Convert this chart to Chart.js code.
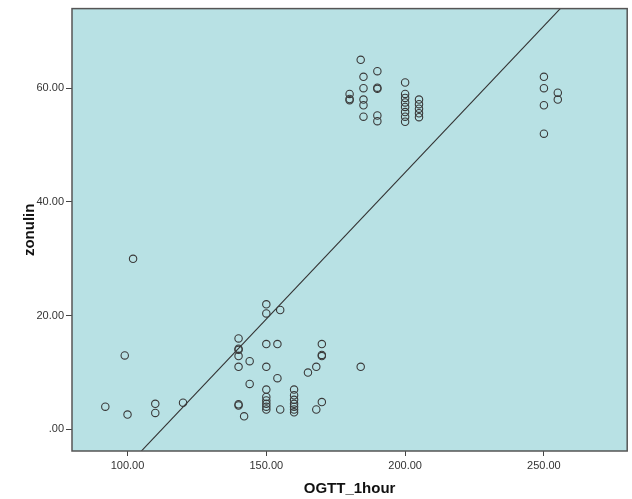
<!DOCTYPE html>
<html>
<head>
<meta charset="utf-8">
<script src="https://cdn.jsdelivr.net/npm/chart.js@4/dist/chart.umd.min.js"></script>
<style>
  html, body { margin: 0; padding: 0; background: #fff; }
  #wrap { width: 632px; height: 499px; }
</style>
</head>
<body>
<div id="wrap"><canvas id="scatterChart"></canvas></div>
<script>
// OGTT 1 hour vs zonulin
const ogtt = [
  92, 100, 99, 102, 110, 110, 120,
  140, 140, 140, 140, 140, 140, 140, 142, 144, 144,
  150, 150, 150, 150, 150, 150, 150, 150, 150, 150,
  154, 154, 155, 155,
  160, 160, 160, 160, 160, 160, 160,
  165, 168, 168, 170, 170, 170, 170, 184,
  180, 180, 180,
  184, 185, 185, 185, 185, 185,
  190, 190, 190, 190, 190,
  200, 200, 200, 200, 200, 200, 200, 200,
  205, 205, 205, 205, 205,
  250, 250, 250, 250, 255, 255
];
const zonulin = [
  4, 2.6, 13, 30, 4.5, 2.9, 4.7,
  16, 14, 14.2, 12.9, 11, 4.4, 4.2, 2.3, 12, 8,
  22, 20.4, 15, 11, 7, 5.7, 5.1, 4.5, 4, 3.5,
  15, 9, 21, 3.5,
  7, 6, 5.2, 4.5, 4, 3.5, 3,
  10, 11, 3.5, 15, 13.1, 12.9, 4.8, 11,
  59, 58.1, 57.9,
  65, 62, 60, 58, 57, 55,
  63, 60.1, 59.9, 55.2, 54.2,
  61, 59, 58.3, 57.5, 56.7, 55.8, 55, 54.1,
  58, 57.2, 56.4, 55.6, 54.9,
  62, 60, 57, 52, 59.2, 58
];
const xTicks = [100, 150, 200, 250];
const yTicks = [0, 20, 40, 60];

// linear fit line
const fitSlope = 0.5156;
const fitIntercept = -57.94;
const xMin = 80, xMax = 280;
const yMin = -3.8, yMax = 74;

const points = ogtt.map((x, i) => ({ x: x, y: zonulin[i] }));
const fitLine = [xMin, xMax].map((x) => ({ x: x, y: fitIntercept + fitSlope * x }));

const fmt = (v) => {
  const s = v.toFixed(2);
  return s.startsWith("0.") ? s.slice(1) : s;
};

// fill + frame the plot area
const plotFrame = {
  id: "plotFrame",
  beforeDatasetsDraw(chart) {
    const { ctx, chartArea: a } = chart;
    ctx.save();
    ctx.fillStyle = "#b8e1e4";
    ctx.fillRect(a.left, a.top, a.right - a.left, a.bottom - a.top);
    ctx.restore();
  },
  afterDatasetsDraw(chart) {
    const { ctx, chartArea: a } = chart;
    ctx.save();
    ctx.strokeStyle = "#555";
    ctx.lineWidth = 1.5;
    ctx.strokeRect(a.left, a.top, a.right - a.left, a.bottom - a.top);
    ctx.restore();
  },
};

const ctx = document.getElementById("scatterChart").getContext("2d");
new Chart(ctx, {
  type: "scatter",
  data: {
    datasets: [
      {
        data: points,
        pointStyle: "circle",
        pointRadius: 3.7,
        pointHoverRadius: 3.7,
        pointBorderWidth: 1.1,
        pointBorderColor: "#3a3a3a",
        pointBackgroundColor: "rgba(0,0,0,0)",
      },
      {
        type: "line",
        data: fitLine,
        borderColor: "#333",
        borderWidth: 1.1,
        pointRadius: 0,
        fill: false,
      },
    ],
  },
  options: {
    responsive: true,
    maintainAspectRatio: false,
    animation: false,
    layout: { padding: { top: 6, right: 4, left: 0, bottom: 0 } },
    plugins: { legend: { display: false }, tooltip: { enabled: false } },
    scales: {
      x: {
        type: "linear",
        min: xMin,
        max: xMax,
        afterBuildTicks: (scale) => {
          scale.ticks = xTicks.map((v) => ({ value: v }));
        },
        afterFit: (scale) => {
          scale.height = 48;
        },
        grid: { display: true, drawOnChartArea: false, drawTicks: true, tickLength: 5, color: "#444", lineWidth: 1 },
        border: { display: false },
        ticks: {
          color: "#333",
          padding: 3,
          maxRotation: 0,
          font: { family: "Liberation Sans", size: 11 },
          callback: (v) => fmt(v),
        },
        title: {
          display: true,
          text: "OGTT_1hour",
          color: "#111",
          padding: { top: 0, bottom: 1 },
          font: { family: "Liberation Sans", size: 15, weight: "bold" },
        },
      },
      y: {
        type: "linear",
        min: yMin,
        max: yMax,
        afterBuildTicks: (scale) => {
          scale.ticks = yTicks.map((v) => ({ value: v }));
        },
        afterFit: (scale) => {
          scale.width = 72;
        },
        grid: { display: true, drawOnChartArea: false, drawTicks: true, tickLength: 6, color: "#444", lineWidth: 1 },
        border: { display: false },
        ticks: {
          color: "#333",
          padding: 2,
          font: { family: "Liberation Sans", size: 11 },
          callback: (v) => fmt(v),
        },
        title: {
          display: true,
          text: "zonulin",
          color: "#111",
          padding: { top: 21, bottom: 0 },
          font: { family: "Liberation Sans", size: 15, weight: "bold" },
        },
      },
    },
  },
  plugins: [plotFrame],
});
</script>
</body>
</html>
